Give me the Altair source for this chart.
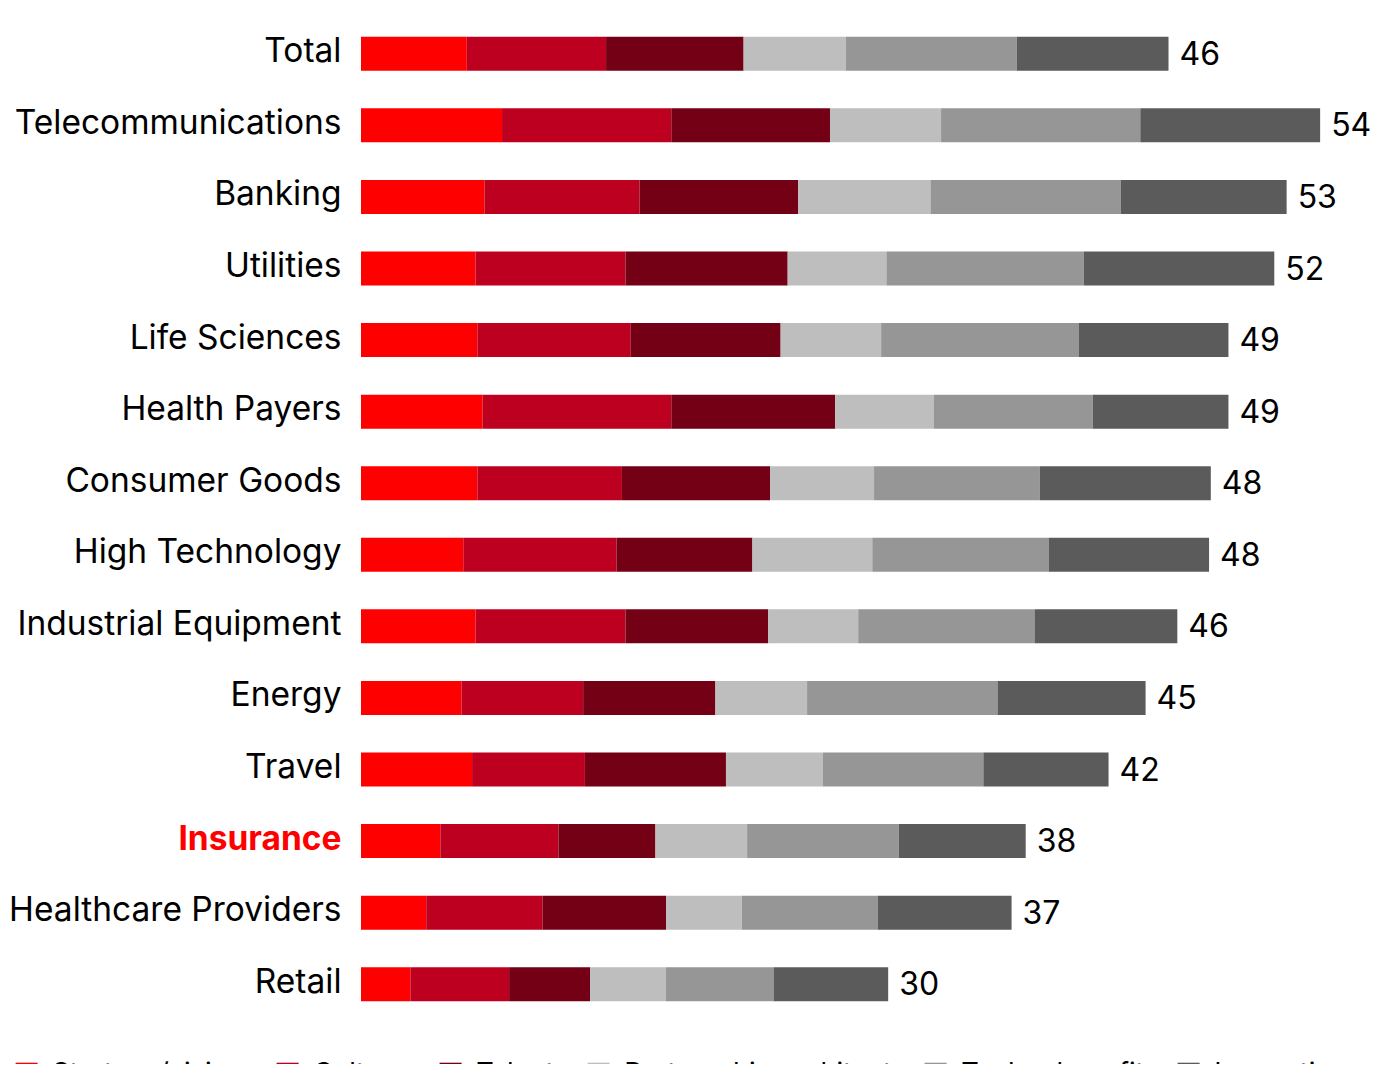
import altair as alt
import pandas as pd

industries = ["Total", "Telecommunications", "Banking", "Utilities", "Life Sciences",
              "Health Payers", "Consumer Goods", "High Technology", "Industrial Equipment",
              "Energy", "Travel", "Insurance", "Healthcare Providers", "Retail"]
components = ["Strategy/vision", "Culture", "Talent", "Partnership architect",
              "Technology fit", "Innovation"]
colors = ["#ff0000", "#be0020", "#730014", "#bebebe", "#969696", "#5b5b5b"]

strategy    = [6.0, 8.0, 7.0, 6.5, 6.6, 6.9, 6.6, 5.8, 6.5, 5.7, 6.3, 4.5, 3.7, 2.8]
culture     = [7.9, 9.6, 8.8, 8.5, 8.7, 10.7, 8.2, 8.7, 8.5, 6.9, 6.4, 6.7, 6.6, 5.6]
talent      = [7.8, 9.0, 9.0, 9.2, 8.5, 9.3, 8.4, 7.7, 8.1, 7.5, 8.0, 5.5, 7.0, 4.6]
partnership = [5.8, 6.3, 7.5, 5.6, 5.7, 5.6, 5.9, 6.8, 5.1, 5.2, 5.5, 5.2, 4.3, 4.3]
technology  = [9.7, 11.3, 10.8, 11.2, 11.2, 9.0, 9.4, 10.0, 10.0, 10.8, 9.1, 8.6, 7.7, 6.1]
innovation  = [8.6, 10.2, 9.4, 10.8, 8.5, 7.7, 9.7, 9.1, 8.1, 8.4, 7.1, 7.2, 7.6, 6.5]
totals      = [46, 54, 53, 52, 49, 49, 48, 48, 46, 45, 42, 38, 37, 30]

series = [strategy, culture, talent, partnership, technology, innovation]

rows = []
for j, comp in enumerate(components):
    for i, ind in enumerate(industries):
        rows.append({"industry": ind, "component": comp, "order": j, "value": series[j][i]})
df = pd.DataFrame(rows)

tot_df = pd.DataFrame({
    "industry": industries,
    "sum": [sum(s[i] for s in series) for i in range(len(industries))],
    "label": [str(t) for t in totals],
})

FONT = "Inter"

y_enc = alt.Y("industry:N", sort=industries, title=None,
              scale=alt.Scale(paddingInner=0.525, paddingOuter=0.2625),
              axis=alt.Axis(ticks=False, domain=False, labelPadding=20,
                            labelFontSize=33.5, labelFont=FONT, labelOffset=-1.5,
                            labelColor=alt.condition("datum.value == 'Insurance'",
                                                     alt.value("#ff0000"), alt.value("#000000")),
                            labelFontWeight=alt.condition("datum.value == 'Insurance'",
                                                          alt.value("bold"), alt.value("normal")),
                            minExtent=348, maxExtent=348, labelLimit=400))

bars = alt.Chart(df).mark_bar().encode(
    x=alt.X("value:Q", stack="zero", title=None,
            scale=alt.Scale(domain=[0, 55.3], nice=False),
            axis=None),
    y=y_enc,
    color=alt.Color("component:N", sort=components,
                    scale=alt.Scale(domain=components, range=colors),
                    legend=alt.Legend(orient="none", legendX=-348, legendY=1042,
                                      direction="horizontal", title=None, padding=0,
                                      symbolType="square", symbolSize=484,
                                      symbolStrokeWidth=0, labelFontSize=27.2,
                                      labelFont=FONT, labelColor="#000000",
                                      labelOffset=12, columnPadding=30,
                                      labelLimit=400)),
    order=alt.Order("order:Q"),
)

labels = alt.Chart(tot_df).mark_text(
    align="left", baseline="middle", dx=11, dy=1, fontSize=32, font=FONT, color="#000000"
).encode(
    x=alt.X("sum:Q"),
    y=alt.Y("industry:N", sort=industries),
    text="label:N",
)

chart = alt.layer(bars, labels).properties(
    width=975, height=1002,
    autosize=alt.AutoSizeParams(type="none"),
    padding={"left": 353, "top": 10, "right": 34, "bottom": 44},
).configure(font=FONT).configure_view(strokeWidth=0, stroke="transparent")

chart.save("out.html", embed_options={"renderer": "svg", "actions": False})
